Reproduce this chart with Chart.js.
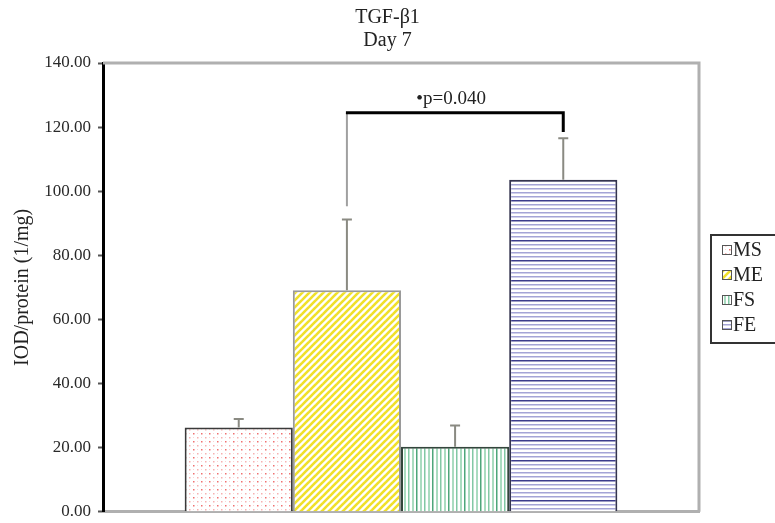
<!DOCTYPE html>
<html>
<head>
<meta charset="utf-8">
<script src="https://cdn.jsdelivr.net/npm/chart.js@4.4.1/dist/chart.umd.min.js"></script>
<style>
    html, body { margin: 0; padding: 0; background: #fff; }
    canvas { display: block; }
</style>
</head>
<body>
<canvas id="chart" width="775" height="523"></canvas>
<script>
const groups = ['MS', 'ME', 'FS', 'FE'];
const means = [26.3, 69.1, 20.3, 103.6];
const errors = [2.6, 22.1, 6.6, 12.9];
const yTicks = [0, 20, 40, 60, 80, 100, 120, 140];
const titleLines = ['TGF-β1', 'Day 7'];
const sigPair = ['ME', 'FE'];
const sigText = '•p=0.040';
const sigLevels = [124.5, 95.3, 118.5]; // bracket line, left leg end, right leg end

const serif = "'Liberation Serif', 'Times New Roman', serif";

function makePattern(w, h, draw) {
    const c = document.createElement('canvas');
    c.width = w;
    c.height = h;
    const g = c.getContext('2d');
    g.fillStyle = '#fff';
    g.fillRect(0, 0, w, h);
    draw(g);
    return g.createPattern(c, 'repeat');
}

// one fill per group, roughly like the old excel patterns
const fills = [
    makePattern(8, 8, g => {
        g.fillStyle = '#f07070';
        g.fillRect(1, 1, 1.5, 1.5);
        g.fillStyle = '#f6b0b0';
        g.fillRect(5, 5, 1.5, 1.5);
        g.fillStyle = '#fad4d4';
        g.fillRect(5, 1, 1, 1);
        g.fillRect(1, 5, 1, 1);
    }),
    makePattern(7, 7, g => {
        g.strokeStyle = '#f0e02a';
        g.lineWidth = 2.6;
        for (let k = -1; k <= 1; k++) {
            g.beginPath();
            g.moveTo(k * 7 - 1, 8);
            g.lineTo(k * 7 + 8, -1);
            g.stroke();
        }
    }),
    makePattern(16, 4, g => {
        g.fillStyle = '#4ea67a';
        g.fillRect(0, 0, 1.5, 4);
        g.fillStyle = '#aadcc0';
        g.fillRect(4, 0, 2, 4);
        g.fillRect(12, 0, 2, 4);
        g.fillStyle = '#82c8a4';
        g.fillRect(8, 0, 1.5, 4);
    }),
    makePattern(4, 20, g => {
        g.fillStyle = '#3c3c8c';
        g.fillRect(0, 0, 4, 1.5);
        g.fillStyle = '#a4a4d6';
        [4, 8, 12, 16].forEach(y => g.fillRect(0, y, 4, 1.5));
    })
];
const borders = ['#3a3a3a', '#9a9a9a', '#33463c', '#34344e'];

const frame = {
    id: 'frame',
    afterDraw(chart) {
        const {ctx, chartArea: a} = chart;
        ctx.save();
        ctx.strokeStyle = '#b0b0b0';
        ctx.lineWidth = 3;
        ctx.beginPath();
        ctx.moveTo(a.left, a.top);
        ctx.lineTo(a.right, a.top);
        ctx.lineTo(a.right, a.bottom);
        ctx.stroke();

        // two line title, centred on the whole picture
        ctx.fillStyle = '#222';
        ctx.font = '20px ' + serif;
        ctx.textAlign = 'center';
        ctx.textBaseline = 'middle';
        titleLines.forEach((t, i) => ctx.fillText(t, chart.width / 2, 18 + i * 23));
        ctx.restore();
    }
};

const errorBars = {
    id: 'errorBars',
    afterDatasetsDraw(chart) {
        const {ctx} = chart;
        const y = chart.scales.y;
        ctx.save();
        ctx.strokeStyle = '#8a8a82';
        ctx.lineWidth = 2;
        means.forEach((m, i) => {
            const bar = chart.getDatasetMeta(i).data[0];
            const top = y.getPixelForValue(m + errors[i]);
            ctx.beginPath();
            ctx.moveTo(bar.x, bar.y);
            ctx.lineTo(bar.x, top);
            ctx.moveTo(bar.x - 5, top);
            ctx.lineTo(bar.x + 5, top);
            ctx.stroke();
        });

        // significance bracket
        const x1 = chart.getDatasetMeta(groups.indexOf(sigPair[0])).data[0].x;
        const x2 = chart.getDatasetMeta(groups.indexOf(sigPair[1])).data[0].x;
        const yLine = y.getPixelForValue(sigLevels[0]);
        ctx.strokeStyle = '#a0a0a0';
        ctx.lineWidth = 2;
        ctx.beginPath();
        ctx.moveTo(x1, yLine);
        ctx.lineTo(x1, y.getPixelForValue(sigLevels[1]));
        ctx.stroke();
        ctx.strokeStyle = '#000';
        ctx.lineWidth = 3;
        ctx.beginPath();
        ctx.moveTo(x1 - 1, yLine);
        ctx.lineTo(x2, yLine);
        ctx.lineTo(x2, y.getPixelForValue(sigLevels[2]));
        ctx.stroke();
        ctx.fillStyle = '#222';
        ctx.font = '19px ' + serif;
        ctx.textAlign = 'center';
        ctx.textBaseline = 'bottom';
        ctx.fillText(sigText, (x1 + x2) / 2 - 4, yLine - 4);
        ctx.restore();
    }
};

const boxLegend = {
    id: 'boxLegend',
    afterDraw(chart) {
        const {ctx} = chart;
        const left = 711, top = 235, rowH = 25;
        ctx.save();
        ctx.strokeStyle = '#333';
        ctx.lineWidth = 2;
        ctx.strokeRect(left, top, 90, rowH * groups.length + 8);
        ctx.font = '20px ' + serif;
        ctx.textBaseline = 'middle';
        groups.forEach((name, i) => {
            const cy = top + 15 + i * rowH;
            ctx.fillStyle = fills[i];
            ctx.fillRect(722, cy - 4.5, 9, 9);
            ctx.strokeStyle = '#555';
            ctx.lineWidth = 1;
            ctx.strokeRect(722.5, cy - 4.5, 9, 9);
            ctx.fillStyle = '#222';
            ctx.fillText(name, 733, cy + 1);
        });
        ctx.restore();
    }
};

new Chart(document.getElementById('chart'), {
    type: 'bar',
    data: {
        labels: [''],
        datasets: groups.map((name, i) => ({
            label: name,
            data: [means[i]],
            backgroundColor: fills[i],
            borderColor: borders[i],
            borderWidth: 2
        }))
    },
    options: {
        responsive: false,
        devicePixelRatio: 1,
        animation: false,
        events: [],
        datasets: {
            bar: {barPercentage: 1, categoryPercentage: 0.726}
        },
        layout: {padding: {left: 0, right: 76, top: 63, bottom: 0}},
        plugins: {
            legend: {display: false},
            tooltip: {enabled: false},
            title: {display: false}
        },
        scales: {
            x: {
                grid: {display: false},
                ticks: {display: false},
                border: {display: true, color: '#b0b0b0', width: 3},
                afterFit: s => { s.height = 0; }
            },
            y: {
                min: yTicks[0],
                max: yTicks[yTicks.length - 1],
                afterBuildTicks: s => { s.ticks = yTicks.map(v => ({value: v})); },
                ticks: {
                    color: '#2a2a2a',
                    padding: 7,
                    font: {family: serif, size: 17, lineHeight: 0.5},
                    callback: v => v.toFixed(2)
                },
                grid: {drawOnChartArea: false, tickLength: 5, tickWidth: 2, color: '#555'},
                border: {display: true, color: '#000', width: 3},
                title: {
                    display: true,
                    text: 'IOD/protein (1/mg)',
                    color: '#222',
                    font: {family: serif, size: 20},
                    padding: {top: 11, bottom: 0}
                },
                afterFit: s => { s.width = 103; }
            }
        }
    },
    plugins: [frame, errorBars, boxLegend]
});
</script>
</body>
</html>
